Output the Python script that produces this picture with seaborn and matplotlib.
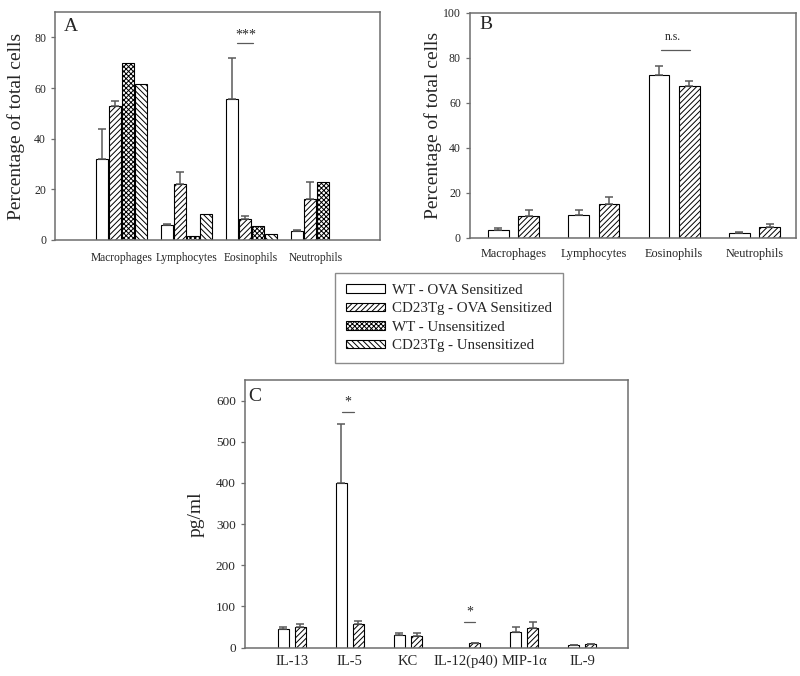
import matplotlib
matplotlib.use("Agg")

import matplotlib.pyplot as plt
import matplotlib.patches as mpatches
import numpy as np
import pandas as pd
import seaborn as sns

sns.set_style("ticks")
plt.rcParams["font.family"] = ["Liberation Serif", "DejaVu Serif"]
plt.rcParams["hatch.linewidth"] = 0.7

GROUPS = ["WT - OVA Sensitized", "CD23Tg - OVA Sensitized",
          "WT - Unsensitized", "CD23Tg - Unsensitized"]
HATCHES = ["", "//////", "xxxxxxx", "\\\\\\\\\\\\"]

# panel A: percentage of total cells
cells = ["Macrophages", "Lymphocytes", "Eosinophils", "Neutrophils"]
a_wt_ova = [32, 5.8, 55.7, 3.5]
a_wt_ova_err = [12, 0.4, 16.3, 0.3]
a_tg_ova = [53, 22, 8.3, 16.3]
a_tg_ova_err = [2, 4.8, 1.0, 6.7]
a_wt_uns = [70, 1.5, 5.7, 22.8]
a_tg_uns = [61.5, 10.2, 2.5, np.nan]

# panel B
b_wt_ova = [3.7, 10.4, 72.2, 2.4]
b_wt_ova_err = [0.5, 1.8, 4.2, 0.4]
b_tg_ova = [9.8, 15.0, 67.7, 4.9]
b_tg_ova_err = [2.8, 3.0, 1.9, 1.5]

# panel C: cytokines
cytokines = ["IL-13", "IL-5", "KC", "IL-12(p40)", "MIP-1\u03b1", "IL-9"]
c_wt_ova = [45, 399, 31, 0, 37, 5.5]
c_wt_ova_err = [5, 144, 5, 0, 12, 1]
c_tg_ova = [50, 57, 28, 10.5, 48, 8]
c_tg_ova_err = [8, 8, 7, 1.5, 13, 1.5]

SPINE = "#6e6e6e"
ERR = "#5a5a5a"


def long_df(cats, series):
    rows = []
    for g, vals in series.items():
        for c, v in zip(cats, vals):
            rows.append({"cat": c, "group": g, "value": v})
    return pd.DataFrame(rows)


def draw_panel(ax, cats, series, errs, width, gap):
    df = long_df(cats, series)
    groups = list(series.keys())
    sns.barplot(data=df, x="cat", y="value", hue="group", order=cats,
                hue_order=groups, palette=["white"] * len(groups),
                edgecolor="black", linewidth=0.8, width=width, gap=gap,
                errorbar=None, legend=False, ax=ax)
    # copy first: errorbar() appends its own containers
    bar_conts = list(ax.containers)
    for gi, cont in enumerate(bar_conts):
        g = groups[gi]
        for bar in cont:
            bar.set_hatch(HATCHES[GROUPS.index(g)])
            bar.set_facecolor("white")
            if g not in errs:
                continue
            xc = bar.get_x() + bar.get_width() / 2
            idx = int(round(xc))
            e = errs[g][idx]
            if e > 0:
                ax.errorbar(xc, bar.get_height(), yerr=[[0], [e]], fmt="none",
                            ecolor=ERR, elinewidth=1.1, capsize=3,
                            capthick=1.1, zorder=1)
    for s in ax.spines.values():
        s.set_color(SPINE)
        s.set_linewidth(1.1)
    ax.tick_params(axis="x", length=0)
    ax.tick_params(axis="y", length=3, color=SPINE, width=0.9)
    ax.set_xlabel("")


fig = plt.figure(figsize=(8, 6.76), dpi=100)

# A
axA = fig.add_axes([0.069, 0.645, 0.406, 0.337])
draw_panel(axA, cells,
           {GROUPS[0]: a_wt_ova, GROUPS[1]: a_tg_ova,
            GROUPS[2]: a_wt_uns, GROUPS[3]: a_tg_uns},
           {GROUPS[0]: a_wt_ova_err, GROUPS[1]: a_tg_ova_err},
           width=0.8, gap=0.07)
axA.set_xlim(-1.015, 3.98)
axA.set_ylim(0, 90)
axA.set_yticks([0, 20, 40, 60, 80])
axA.tick_params(axis="y", labelsize=8.5)
axA.tick_params(axis="x", labelsize=8.3, pad=9)
axA.set_ylabel("Percentage of total cells", fontsize=14)
axA.yaxis.set_label_coords(-0.092, 0.5)
axA.text(0.025, 0.975, "A", transform=axA.transAxes, fontsize=14, va="top")
axA.plot([1.78, 2.03], [78, 78], color=ERR, lw=0.9)
axA.text(1.91, 78.3, "***", ha="center", va="bottom", fontsize=10)

# B
axB = fig.add_axes([0.5875, 0.648, 0.407, 0.333])
draw_panel(axB, cells,
           {GROUPS[0]: b_wt_ova, GROUPS[1]: b_tg_ova},
           {GROUPS[0]: b_wt_ova_err, GROUPS[1]: b_tg_ova_err},
           width=0.76, gap=0.32)
axB.set_xlim(-0.54, 3.51)
axB.set_ylim(0, 100)
axB.set_yticks([0, 20, 40, 60, 80, 100])
axB.tick_params(axis="y", labelsize=8.5)
axB.tick_params(axis="x", labelsize=8.8, pad=7)
axB.set_ylabel("Percentage of total cells", fontsize=14)
axB.yaxis.set_label_coords(-0.087, 0.5)
axB.text(0.028, 0.985, "B", transform=axB.transAxes, fontsize=14, va="top")
axB.plot([1.83, 2.2], [83.7, 83.7], color=ERR, lw=0.9)
axB.text(1.98, 86.5, "n.s.", ha="center", va="bottom", fontsize=8.5)

# C
axC = fig.add_axes([0.306, 0.042, 0.479, 0.396])
draw_panel(axC, cytokines,
           {GROUPS[0]: c_wt_ova, GROUPS[1]: c_tg_ova},
           {GROUPS[0]: c_wt_ova_err, GROUPS[1]: c_tg_ova_err},
           width=0.59, gap=0.34)
axC.set_xlim(-0.81, 5.79)
axC.set_ylim(0, 650)
axC.set_yticks(range(0, 700, 100))
axC.tick_params(axis="y", labelsize=9.5)
axC.tick_params(axis="x", labelsize=10.5, pad=5)
axC.set_ylabel("pg/ml", fontsize=14)
axC.yaxis.set_label_coords(-0.105, 0.5)
axC.text(0.01, 0.97, "C", transform=axC.transAxes, fontsize=14, va="top")
axC.plot([0.87, 1.07], [573, 573], color=ERR, lw=0.9)
axC.text(0.97, 580, "*", ha="center", va="bottom", fontsize=10)
axC.plot([2.97, 3.16], [63, 63], color=ERR, lw=0.9)
axC.text(3.07, 70, "*", ha="center", va="bottom", fontsize=10)

# shared legend
handles = [mpatches.Patch(facecolor="white", edgecolor="black", lw=0.8,
                          hatch=h, label=g) for g, h in zip(GROUPS, HATCHES)]
leg = fig.legend(handles=handles, loc="upper left",
                 bbox_to_anchor=(335 / 800, 1 - 273 / 676), fontsize=10.8,
                 frameon=True, fancybox=False, handlelength=2.6,
                 handleheight=0.5, labelspacing=0.37, handletextpad=0.5,
                 borderpad=0.72, borderaxespad=0)
leg.get_frame().set_edgecolor(SPINE)
leg.get_frame().set_linewidth(1.0)

fig.savefig("out.png", dpi=100)
